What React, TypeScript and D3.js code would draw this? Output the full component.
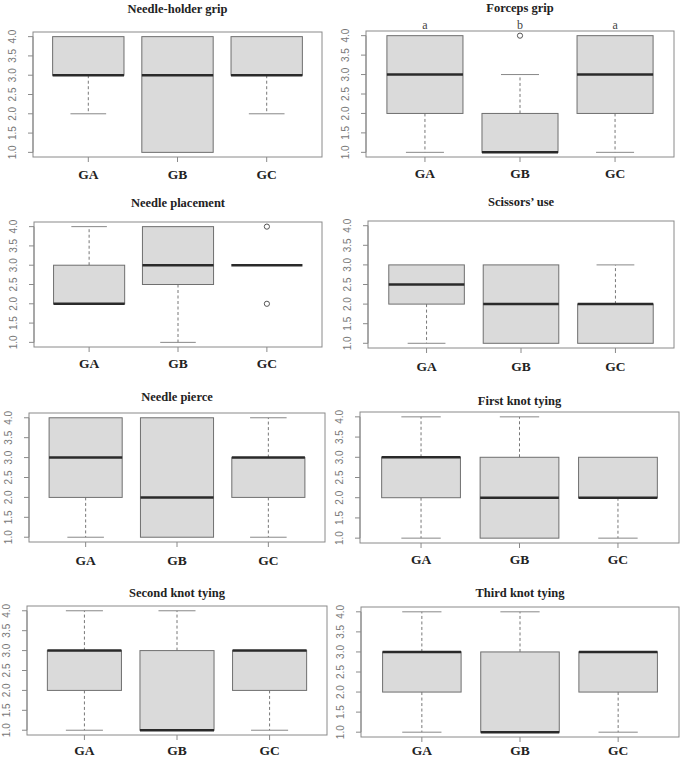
import React from "react";
import * as d3 from "d3";

// ---- data ----
const groups = ["GA", "GB", "GC"];
const yTicks = [1.0, 1.5, 2.0, 2.5, 3.0, 3.5, 4.0];
const panelTitles = [
  "Needle-holder grip",
  "Forceps grip",
  "Needle placement",
  "Scissors\u2019 use",
  "Needle pierce",
  "First knot tying",
  "Second knot tying",
  "Third knot tying",
];
// [lower whisker, Q1, median, Q3, upper whisker] per group
const needleHolderGrip = [[2, 3, 3, 4, 4], [1, 1, 3, 4, 4], [2, 3, 3, 4, 4]];
const forcepsGrip = [[1, 2, 3, 4, 4], [1, 1, 1, 2, 3], [1, 2, 3, 4, 4]];
const needlePlacement = [[2, 2, 2, 3, 4], [1, 2.5, 3, 4, 4], [3, 3, 3, 3, 3]];
const scissorsUse = [[1, 2, 2.5, 3, 3], [1, 1, 2, 3, 3], [1, 1, 2, 2, 3]];
const needlePierce = [[1, 2, 3, 4, 4], [1, 1, 2, 4, 4], [1, 2, 3, 3, 4]];
const firstKnot = [[1, 2, 3, 3, 4], [1, 1, 2, 3, 4], [1, 2, 2, 3, 3]];
const secondKnot = [[1, 2, 3, 3, 4], [1, 1, 1, 3, 4], [1, 2, 3, 3, 3]];
const thirdKnot = [[1, 2, 3, 3, 4], [1, 1, 1, 3, 4], [1, 2, 3, 3, 3]];
const panelStats = [needleHolderGrip, forcepsGrip, needlePlacement, scissorsUse, needlePierce, firstKnot, secondKnot, thirdKnot];
// outliers per panel per group
const forcepsOutliers = [[], [4], []];
const placementOutliers = [[], [], [4, 2]];
const noOutliers = [[], [], []];
const panelOutliers = [noOutliers, forcepsOutliers, placementOutliers, noOutliers, noOutliers, noOutliers, noOutliers, noOutliers];
const forcepsLetters = ["a", "b", "a"];
const panelLetters = [null, forcepsLetters, null, null, null, null, null, null];

// ---- layout ----
const frames = [
  { x0: 33, x1: 322, y0: 32, y1: 157, ty: 9, ly: 174 },
  { x0: 366, x1: 674, y0: 31, y1: 157, ty: 8, ly: 173 },
  { x0: 34, x1: 322, y0: 222, y1: 347, ty: 203, ly: 363 },
  { x0: 368, x1: 674, y0: 221, y1: 348, ty: 202, ly: 366 },
  { x0: 29, x1: 325, y0: 413, y1: 542, ty: 397, ly: 560 },
  { x0: 360, x1: 679, y0: 412, y1: 543, ty: 401, ly: 559 },
  { x0: 27, x1: 327, y0: 606, y1: 735, ty: 593, ly: 750 },
  { x0: 361, x1: 679, y0: 607, y1: 737, ty: 593, ly: 750 },
];

const serif = "'Liberation Serif', 'DejaVu Serif', serif";
const sans = "'Liberation Sans', Arial, sans-serif";

function Panel({ idx }: { idx: number }) {
  const f = frames[idx];
  const stats = panelStats[idx];
  const outs = panelOutliers[idx];
  const letters = panelLetters[idx];
  const x = d3.scaleLinear().domain([0.38, 3.62]).range([f.x0, f.x1]);
  const y = d3.scaleLinear().domain([0.88, 4.12]).range([f.y1, f.y0]);
  const bw = x(1.4) - x(1.0); // half box width (0.4)
  const sw = bw / 2;
  const cx = (f.x0 + f.x1) / 2;
  return (
    <g>
      <text x={cx} y={f.ty} dy="0.35em" textAnchor="middle" fontFamily={serif} fontWeight="bold" fontSize={12.5} fill="#222">
        {panelTitles[idx]}
      </text>
      <rect x={f.x0} y={f.y0} width={f.x1 - f.x0} height={f.y1 - f.y0} fill="none" stroke="#8a8a8a" strokeWidth={1} />
      {/* y axis */}
      <line x1={f.x0} x2={f.x0} y1={y(1)} y2={y(4)} stroke="#8a8a8a" />
      {yTicks.map((t) => (
        <g key={t}>
          <line x1={f.x0 - 5} x2={f.x0} y1={y(t)} y2={y(t)} stroke="#8a8a8a" />
          <text
            transform={`translate(${f.x0 - 21},${y(t)}) rotate(-90)`}
            textAnchor="middle"
            dy="0.35em"
            fontFamily={sans}
            fontSize={10}
            fill="#777"
          >
            {t.toFixed(1)}
          </text>
        </g>
      ))}
      {/* x axis */}
      {groups.map((g, i) => (
        <g key={g}>
          <line x1={x(i + 1)} x2={x(i + 1)} y1={f.y1} y2={f.y1 + 5} stroke="#8a8a8a" />
          <text x={x(i + 1)} y={f.ly} dy="0.35em" textAnchor="middle" fontFamily={serif} fontWeight="bold" fontSize={13.5} fill="#222">
            {g}
          </text>
        </g>
      ))}
      {/* boxes */}
      {stats.map((s, i) => {
        const c = x(i + 1);
        const [lo, q1, med, q3, hi] = s;
        return (
          <g key={i}>
            {lo < q1 && (
              <>
                <line x1={c} x2={c} y1={y(q1)} y2={y(lo)} stroke="#777" strokeDasharray="3,2.5" />
                <line x1={c - sw} x2={c + sw} y1={y(lo)} y2={y(lo)} stroke="#888" />
              </>
            )}
            {hi > q3 && (
              <>
                <line x1={c} x2={c} y1={y(q3)} y2={y(hi)} stroke="#777" strokeDasharray="3,2.5" />
                <line x1={c - sw} x2={c + sw} y1={y(hi)} y2={y(hi)} stroke="#888" />
              </>
            )}
            {q3 > q1 && (
              <rect x={c - bw} y={y(q3)} width={2 * bw} height={y(q1) - y(q3)} fill="#dadada" stroke="#6f6f6f" strokeWidth={1} />
            )}
            <line x1={c - bw} x2={c + bw} y1={y(med)} y2={y(med)} stroke="#2a2a2a" strokeWidth={2.5} />
            {outs[i].map((o, k) => (
              <circle key={k} cx={c} cy={y(o)} r={2.6} fill="none" stroke="#555" strokeWidth={1} />
            ))}
            {letters && (
              <text x={c} y={f.y0 - 2} textAnchor="middle" fontFamily={serif} fontSize={12} fill="#444">
                {letters[i]}
              </text>
            )}
          </g>
        );
      })}
    </g>
  );
}

export default function App() {
  return (
    <svg width={684} height={758} style={{ position: "absolute", left: 0, top: 0, background: "#fff" }}>
      <rect width={684} height={758} fill="#fff" />
      {frames.map((_, i) => (
        <Panel key={i} idx={i} />
      ))}
    </svg>
  );
}
